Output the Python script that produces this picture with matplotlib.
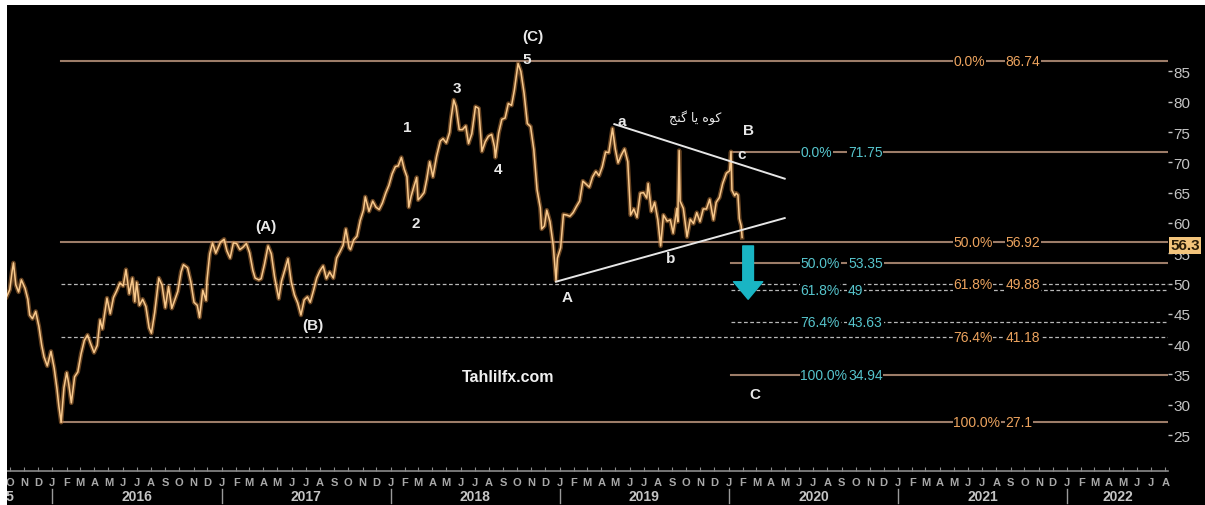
import pandas as pd
import matplotlib
matplotlib.use('Agg')
import matplotlib.pyplot as plt
from matplotlib.transforms import blended_transform_factory
from matplotlib.patches import Rectangle
from matplotlib.lines import Line2D

plt.rcParams['font.family'] = ['Liberation Sans', 'DejaVu Sans']

# brent price (about one point a week)
price_dates = [
    '2015-09-24', '2015-10-01', '2015-10-06', '2015-10-09', '2015-10-14', '2015-10-20', '2015-10-26',
    '2015-11-03', '2015-11-09', '2015-11-13', '2015-11-19', '2015-11-26', '2015-12-03', '2015-12-09',
    '2015-12-14', '2015-12-21', '2015-12-29', '2016-01-05', '2016-01-11', '2016-01-15', '2016-01-20',
    '2016-01-26', '2016-02-01', '2016-02-05', '2016-02-11', '2016-02-18', '2016-02-25', '2016-03-03',
    '2016-03-10', '2016-03-17', '2016-03-23', '2016-03-31', '2016-04-07', '2016-04-13', '2016-04-18',
    '2016-04-28', '2016-05-05', '2016-05-12', '2016-05-19', '2016-05-26', '2016-06-02', '2016-06-08',
    '2016-06-15', '2016-06-22', '2016-06-27', '2016-07-01', '2016-07-07', '2016-07-14', '2016-07-21',
    '2016-07-28', '2016-08-02', '2016-08-09', '2016-08-18', '2016-08-25', '2016-09-01', '2016-09-08',
    '2016-09-15', '2016-09-22', '2016-09-28', '2016-10-05', '2016-10-10', '2016-10-19', '2016-10-26',
    '2016-11-02', '2016-11-09', '2016-11-14', '2016-11-21', '2016-11-28', '2016-11-30', '2016-12-06',
    '2016-12-12', '2016-12-19', '2016-12-29', '2017-01-06', '2017-01-12', '2017-01-19', '2017-01-26',
    '2017-02-02', '2017-02-09', '2017-02-16', '2017-02-23', '2017-03-02', '2017-03-09', '2017-03-14',
    '2017-03-22', '2017-03-27', '2017-04-03', '2017-04-11', '2017-04-18', '2017-04-25', '2017-05-04',
    '2017-05-10', '2017-05-17', '2017-05-24', '2017-05-31', '2017-06-07', '2017-06-14', '2017-06-21',
    '2017-06-28', '2017-07-05', '2017-07-11', '2017-07-18', '2017-07-25', '2017-08-01', '2017-08-08',
    '2017-08-15', '2017-08-22', '2017-08-30', '2017-09-06', '2017-09-13', '2017-09-20', '2017-09-26',
    '2017-10-03', '2017-10-06', '2017-10-13', '2017-10-20', '2017-10-27', '2017-11-03', '2017-11-07',
    '2017-11-15', '2017-11-23', '2017-11-30', '2017-12-07', '2017-12-14', '2017-12-21', '2017-12-28',
    '2018-01-04', '2018-01-11', '2018-01-17', '2018-01-24', '2018-01-30', '2018-02-05', '2018-02-09',
    '2018-02-14', '2018-02-20', '2018-02-26', '2018-03-01', '2018-03-07', '2018-03-14', '2018-03-20',
    '2018-03-26', '2018-04-02', '2018-04-10', '2018-04-18', '2018-04-24', '2018-05-01', '2018-05-08',
    '2018-05-11', '2018-05-17', '2018-05-22', '2018-05-29', '2018-06-05', '2018-06-12', '2018-06-18',
    '2018-06-25', '2018-07-03', '2018-07-10', '2018-07-17', '2018-07-24', '2018-07-31', '2018-08-07',
    '2018-08-13', '2018-08-15', '2018-08-22', '2018-08-29', '2018-09-05', '2018-09-12', '2018-09-19',
    '2018-09-25', '2018-10-03', '2018-10-09', '2018-10-16', '2018-10-23', '2018-10-30', '2018-11-06',
    '2018-11-13', '2018-11-20', '2018-11-23', '2018-11-29', '2018-12-04', '2018-12-11', '2018-12-18',
    '2018-12-24', '2018-12-27', '2019-01-03', '2019-01-09', '2019-01-16', '2019-01-23', '2019-01-30',
    '2019-02-06', '2019-02-13', '2019-02-20', '2019-02-27', '2019-03-06', '2019-03-13', '2019-03-20',
    '2019-03-27', '2019-04-03', '2019-04-10', '2019-04-17', '2019-04-25', '2019-05-01', '2019-05-07',
    '2019-05-14', '2019-05-21', '2019-05-28', '2019-06-03', '2019-06-10', '2019-06-17', '2019-06-24',
    '2019-07-01', '2019-07-08', '2019-07-11', '2019-07-18', '2019-07-25', '2019-08-01', '2019-08-07',
    '2019-08-13', '2019-08-21', '2019-08-28', '2019-09-03', '2019-09-11', '2019-09-13', '2019-09-16',
    '2019-09-18', '2019-09-25', '2019-10-03', '2019-10-10', '2019-10-17', '2019-10-24', '2019-10-31',
    '2019-11-07', '2019-11-14', '2019-11-21', '2019-11-29', '2019-12-05', '2019-12-12', '2019-12-19',
    '2019-12-27', '2020-01-03', '2020-01-06', '2020-01-08', '2020-01-14', '2020-01-17', '2020-01-21',
    '2020-01-24', '2020-01-28', '2020-01-30',
]
price_vals = [
    47.8, 49.0, 52.0, 53.4, 49.8, 48.6, 50.6,
    49.2, 47.4, 44.8, 44.2, 45.4, 42.9, 39.8,
    37.9, 36.4, 38.8, 36.0, 32.6, 29.8, 27.1,
    32.8, 35.3, 33.6, 30.3, 34.6, 35.4, 38.4,
    40.6, 41.5, 40.2, 38.6, 39.8, 44.0, 42.5,
    47.6, 45.0, 47.7, 48.8, 50.1, 49.6, 52.3,
    48.3, 50.9, 47.0, 50.2, 46.4, 47.4, 46.2,
    42.7, 41.8, 45.2, 50.9, 49.7, 46.0, 49.5,
    45.9, 47.4, 48.7, 51.9, 53.1, 52.6, 50.3,
    46.9, 46.4, 44.4, 48.9, 47.2, 50.5, 54.9,
    56.7, 55.0, 56.8, 57.3, 55.4, 54.2, 56.7,
    56.6, 55.6, 56.0, 56.6, 55.1, 52.2, 50.9,
    50.6, 50.8, 53.1, 56.2, 54.9, 51.1, 47.5,
    50.4, 52.2, 54.1, 50.3, 48.1, 46.8, 44.8,
    47.3, 47.8, 46.9, 48.8, 50.9, 52.1, 52.9,
    50.8, 51.9, 50.9, 54.2, 55.2, 56.3, 59.0,
    55.9, 55.6, 57.2, 57.8, 60.4, 62.1, 64.3,
    61.9, 63.6, 62.6, 62.2, 63.3, 64.9, 66.2,
    68.1, 69.3, 69.4, 70.8, 68.9, 67.6, 62.6,
    64.4, 66.0, 67.5, 63.8, 64.3, 65.0, 67.3,
    70.1, 67.6, 71.0, 73.5, 73.9, 73.2, 74.9,
    77.1, 80.3, 79.2, 75.4, 75.4, 76.0, 73.1,
    74.7, 79.2, 78.9, 71.8, 73.4, 74.3, 74.6,
    72.6, 70.8, 74.8, 77.1, 77.3, 79.7, 79.4,
    81.9, 86.3, 85.0, 81.4, 76.4, 75.9, 72.1,
    65.5, 62.5, 59.0, 59.5, 62.1, 60.2, 56.3,
    50.5, 54.2, 55.9, 61.4, 61.3, 61.1, 61.7,
    62.7, 63.6, 66.9, 66.4, 65.9, 67.6, 68.5,
    67.8, 69.3, 71.7, 71.6, 75.6, 72.2, 69.9,
    71.2, 72.2, 70.1, 61.3, 62.3, 60.9, 64.9,
    65.0, 64.1, 66.5, 61.9, 63.4, 60.5, 56.2,
    61.3, 60.3, 60.5, 58.3, 62.4, 60.2, 71.95,
    63.6, 62.4, 57.7, 60.6, 59.9, 61.7, 60.2,
    62.3, 62.3, 63.9, 60.5, 63.4, 64.2, 66.5,
    68.2, 68.6, 71.75, 65.4, 64.5, 64.9, 64.6,
    60.7, 59.5, 57.6,
]
last_price = 56.3

# big retracement: jan 2016 low -> oct 2018 high
big_start = '2016-01-20'
big_pct = ['0.0%', '50.0%', '61.8%', '76.4%', '100.0%']
big_vals = [86.74, 56.92, 49.88, 41.18, 27.1]
big_dashed = [False, False, True, True, False]

# small projection from the c top of jan 2020
small_start = '2020-01-06'
small_pct = ['0.0%', '50.0%', '61.8%', '76.4%', '100.0%']
small_vals = [71.75, 53.35, 49, 43.63, 34.94]
small_dashed = [False, False, True, True, False]

# triangle
upper_dates = ['2019-04-29', '2020-05-01']
upper_vals = [76.3, 67.3]
lower_dates = ['2018-12-24', '2020-05-01']
lower_vals = [50.3, 60.8]

wave_text = ['(C)', '5', '3', '1', '2', '4', '(A)', '(B)', 'a', 'B', 'c', 'b', 'A', 'C']
wave_dates = ['2018-11-04', '2018-10-22', '2018-05-24', '2018-02-05', '2018-02-25', '2018-08-21',
              '2017-04-07', '2017-07-17', '2019-05-14', '2020-02-12', '2020-01-30', '2019-08-28',
              '2019-01-17', '2020-02-27']
wave_vals = [90.8, 87.0, 82.3, 75.8, 60.0, 68.9, 59.5, 43.2, 76.8, 75.3, 71.3, 54.2, 47.7, 31.8]

yticks = list(range(25, 90, 5))
month_letters = ['J', 'F', 'M', 'A', 'M', 'J', 'J', 'A', 'S', 'O', 'N', 'D']
years = [2016, 2017, 2018, 2019, 2020, 2021, 2022]

# "کوه یا گنج" in shaped, visual order
persian_note = '\uFE9E\uFEE8\uFB94 \uFE8E\uFBFE \uFEE9\uFEEE\uFB90'

ORANGE = '#eca35e'
CYAN = '#56c4cc'
FIBLINE = '#9c7c68'
DASH = '#b8b8b8'
GREY = '#c4c4c4'

x_min = pd.Timestamp('2015-09-25')
x_max = pd.Timestamp('2022-08-07')

fig = plt.figure(figsize=(12.05, 5.06), dpi=100, facecolor='black')
ax = fig.add_axes([7 / 1205, 1 - 472 / 506, 1161 / 1205, 466 / 506])
ax.set_facecolor('black')
ax.set_xlim(x_min, x_max)
ax.set_ylim(19.06, 95.96)

# fib lines + labels
for pct, v, d in zip(big_pct, big_vals, big_dashed):
    if d:
        ax.plot([pd.Timestamp(big_start), x_max], [v, v], color=DASH, lw=0.9, ls=(0, (3, 2)))
    else:
        ax.plot([pd.Timestamp(big_start), x_max], [v, v], color=FIBLINE, lw=1.5)
    ax.text(pd.Timestamp('2021-04-30'), v, pct, color=ORANGE, fontsize=10, va='center', ha='left',
            bbox=dict(facecolor='black', edgecolor='none', pad=0.5), zorder=4)
    ax.text(pd.Timestamp('2021-08-21'), v, f'{v:g}', color=ORANGE, fontsize=10, va='center', ha='left',
            bbox=dict(facecolor='black', edgecolor='none', pad=0.5), zorder=4)

for pct, v, d in zip(small_pct, small_vals, small_dashed):
    if d:
        ax.plot([pd.Timestamp(small_start), x_max], [v, v], color=DASH, lw=0.9, ls=(0, (3, 2)))
    else:
        ax.plot([pd.Timestamp(small_start), x_max], [v, v], color=FIBLINE, lw=1.5)
    ax.text(pd.Timestamp('2020-06-04'), v, pct, color=CYAN, fontsize=10, va='center', ha='left',
            bbox=dict(facecolor='black', edgecolor='none', pad=0.5), zorder=4)
    ax.text(pd.Timestamp('2020-09-15'), v, f'{v:g}', color=CYAN, fontsize=10, va='center', ha='left',
            bbox=dict(facecolor='black', edgecolor='none', pad=0.5), zorder=4)

# price line, with a soft glow like the screenshot
pdates = pd.to_datetime(price_dates)
ax.plot(pdates, price_vals, color='#b9783a', lw=3.2, alpha=0.55, zorder=3)
ax.plot(pdates, price_vals, color='#f7c88c', lw=1.1, zorder=3)

# triangle
ax.plot(pd.to_datetime(upper_dates), upper_vals, color='#e6e6e6', lw=1.4, zorder=3)
ax.plot(pd.to_datetime(lower_dates), lower_vals, color='#e6e6e6', lw=1.4, zorder=3)

for t, d, v in zip(wave_text, wave_dates, wave_vals):
    ax.text(pd.Timestamp(d), v, t, color='#e8e8e8', fontsize=11, fontweight='bold',
            ha='center', va='center', zorder=5)

ax.text(pd.Timestamp('2019-10-21'), 77.6, persian_note, color='#e8e8e8', fontsize=9,
        family=['DejaVu Sans'], ha='center', va='center', zorder=5)
ax.text(pd.Timestamp('2018-09-12'), 34.6, 'Tahlilfx.com', color='#f0f0f0', fontsize=11.5,
        fontweight='bold', ha='center', va='center', zorder=5)

# down arrow
ax.annotate('', xy=(pd.Timestamp('2020-02-12'), 47.4), xytext=(pd.Timestamp('2020-02-12'), 56.2),
            arrowprops=dict(arrowstyle='simple,head_length=0.9,head_width=1.5,tail_width=0.55',
                            color='#19b5c4', mutation_scale=14, shrinkA=0, shrinkB=0), zorder=5)

# y axis on the right
ax.yaxis.tick_right()
ax.set_yticks(yticks)
ax.tick_params(axis='y', colors=GREY, labelsize=11, length=3, width=1, pad=1)
for s in ['top', 'left', 'right']:
    ax.spines[s].set_visible(False)
ax.spines['bottom'].set_color('#8a8a8a')
ax.spines['bottom'].set_linewidth(1.2)

ax.text(1.002, last_price, f'{last_price:g}', transform=blended_transform_factory(ax.transAxes, ax.transData),
        color='#2a1c08', fontsize=11, fontweight='bold', ha='left', va='center', zorder=6, clip_on=False,
        bbox=dict(facecolor='#f3c47c', edgecolor='none', pad=1.0))

# x axis: month letters, year labels
months = pd.date_range('2015-10-01', '2022-08-01', freq='MS')
ax.set_xticks(months)
ax.set_xticklabels([month_letters[m.month - 1] for m in months])
ax.tick_params(axis='x', colors='#8a8a8a', labelcolor='#a8a8a8', labelsize=8, length=3,
               direction='in', pad=4)
for lab in ax.get_xticklabels():
    lab.set_fontweight('bold')

trans = blended_transform_factory(ax.transData, ax.transAxes)
for y in years:
    start = pd.Timestamp(f'{y}-01-01')
    end = min(pd.Timestamp(f'{y + 1}-01-01'), x_max)
    mid = start + (end - start) / 2
    ax.text(mid, -0.054, str(y), transform=trans, color=GREY, fontsize=10, fontweight='bold',
            ha='center', va='center', clip_on=False)
    ax.add_line(Line2D([start, start], [-0.038, -0.069], transform=trans, color='#9a9a9a',
                       lw=1, clip_on=False))
ax.text(pd.Timestamp('2015-10-10'), -0.054, '2015', transform=trans, color=GREY, fontsize=10,
        fontweight='bold', ha='right', va='center', clip_on=False)

# white border of the screenshot
fig.patches.append(Rectangle((0, 1 - 6 / 506), 1, 6 / 506, transform=fig.transFigure,
                             facecolor='white', edgecolor='none', zorder=100))
fig.patches.append(Rectangle((0, 0), 7 / 1205, 1, transform=fig.transFigure,
                             facecolor='white', edgecolor='none', zorder=100))

fig.savefig('out.png', dpi=100, facecolor='black')
